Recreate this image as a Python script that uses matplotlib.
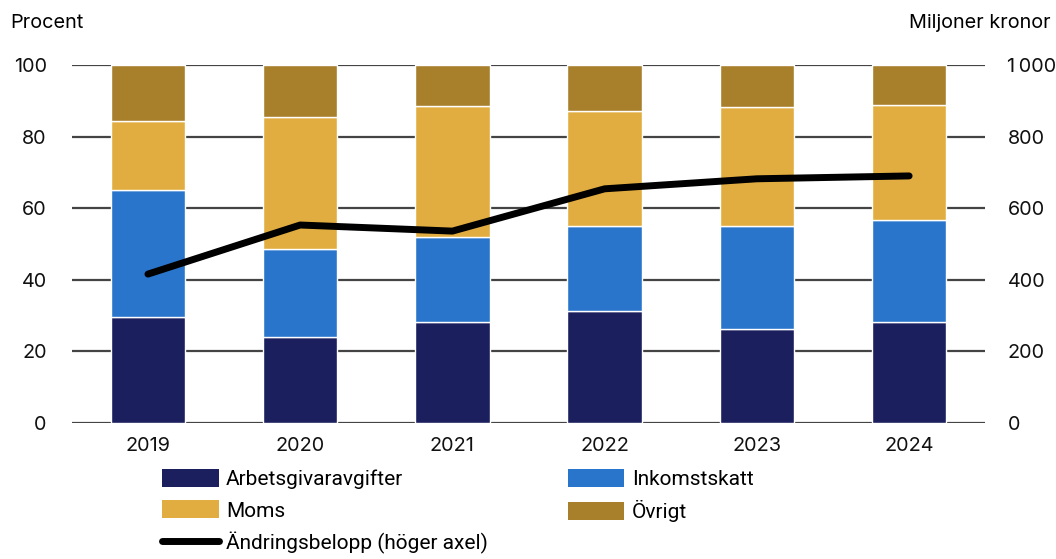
import matplotlib.pyplot as plt
import numpy as np
from matplotlib.patches import Patch
from matplotlib.lines import Line2D

years = ["2019", "2020", "2021", "2022", "2023", "2024"]
arbetsgivar = [29.6, 24.0, 28.2, 31.3, 26.3, 28.2]
inkomstskatt = [35.5, 24.6, 23.8, 23.7, 28.7, 28.5]
moms = [19.3, 36.9, 36.5, 32.2, 33.3, 32.1]
ovrigt = [15.6, 14.5, 11.5, 12.8, 11.7, 11.2]
andring = [416, 553, 536, 654, 682, 690]

c_arb = "#1b1f5e"
c_ink = "#2a75cc"
c_moms = "#e2ad40"
c_ovr = "#a8802c"

plt.rcParams['font.family'] = ['Inter', 'DejaVu Sans']
fs = 14.3

fig = plt.figure(figsize=(10.56, 5.59), dpi=100)
ax = fig.add_axes([0.068, 0.243, 0.865, 0.641])
ax2 = ax.twinx()

x = np.arange(len(years))
w = 0.49
bottom = np.zeros(len(years))
for vals, col in [(arbetsgivar, c_arb), (inkomstskatt, c_ink), (moms, c_moms), (ovrigt, c_ovr)]:
    ax.bar(x, vals, w, bottom=bottom, color=col, edgecolor="white", linewidth=1, zorder=3)
    bottom += np.array(vals)

ax2.plot(x, andring, color="black", linewidth=5, solid_capstyle="round",
         solid_joinstyle="round", zorder=5)

ax.set_xlim(-0.5, len(years) - 0.5)
ax.set_ylim(0, 100)
ax2.set_ylim(0, 1000)
ax.set_yticks(range(0, 101, 20))
ax2.set_yticks(range(0, 1001, 200))
ax2.set_yticklabels(["0", "200", "400", "600", "800", "1\u2009000"])
ax.set_xticks(x)
ax.set_xticklabels(years)

for a in (ax, ax2):
    for s in a.spines.values():
        s.set_visible(False)
    a.tick_params(length=0, labelsize=fs, colors="#111111")
ax.tick_params(axis="y", pad=18)
ax2.tick_params(axis="y", pad=16)
ax.tick_params(axis="x", pad=10)
ax.grid(axis="y", color="#444444", linewidth=1.6, zorder=0)
ax.set_axisbelow(True)
ax2.set_zorder(ax.get_zorder() + 1)
ax2.patch.set_visible(False)

fig.text(0.01, 0.942, "Procent", fontsize=fs, ha="left", va="bottom")
fig.text(0.995, 0.942, "Miljoner kronor", fontsize=fs, ha="right", va="bottom")

handles = [
    Patch(facecolor=c_arb, label="Arbetsgivaravgifter"),
    Patch(facecolor=c_moms, label="Moms"),
    Line2D([0], [0], color="black", linewidth=5, solid_capstyle="round", label="Ändringsbelopp (höger axel)"),
    Patch(facecolor=c_ink, label="Inkomstskatt"),
    Patch(facecolor=c_ovr, label="Övrigt"),
]
fig.legend(handles=handles, ncol=2, loc="upper left", bbox_to_anchor=(0.144, 0.18),
           frameon=False, handlelength=2.7, handleheight=0.95,
           handletextpad=0.35, columnspacing=3.85, labelspacing=0.55,
           borderpad=0, prop={"family": ["Roboto", "DejaVu Sans"], "size": 15})

fig.savefig("out.png", dpi=100)
